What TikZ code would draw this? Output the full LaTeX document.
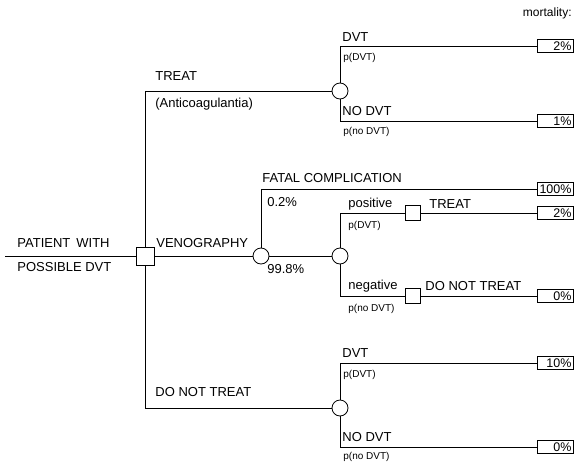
\documentclass[tikz,border=0pt]{standalone}
\usepackage{fontspec}
\setmainfont{Liberation Sans}
\begin{document}
\begin{tikzpicture}[x=1pt,y=-1pt, line width=0.8pt,
  dec/.style={draw, minimum size=15pt, inner sep=0pt, fill=white},
  chance/.style={draw, circle, minimum size=16pt, inner sep=0pt, fill=white},
  outc/.style={draw, minimum width=36pt, minimum height=13pt, inner sep=0pt, text width=33pt, align=right, font=\fontsize{12.5}{13}\selectfont},
  lab/.style={anchor=west, inner sep=0pt, font=\fontsize{13}{14}\selectfont},
  sm/.style={anchor=west, inner sep=0pt, font=\fontsize{10}{11}\selectfont}]
\useasboundingbox (0,0) rectangle (575,463);
% decision / chance nodes
\node[dec, minimum size=18pt] (d0) at (145,256) {};
\node[chance] (cT) at (340,91) {};
\node[chance] (cV) at (261,256) {};
\node[chance] (cR) at (340,256) {};
\node[chance] (cN) at (340,408) {};
\node[dec] (dP) at (413,213) {};
\node[dec] (dN) at (413,296) {};
% outcomes
\node[outc] (o1) at (555,46) {2\%};
\node[outc] (o2) at (555,121) {1\%};
\node[outc] (o3) at (555,189) {100\%};
\node[outc] (o4) at (555,213) {2\%};
\node[outc] (o5) at (555,296) {0\%};
\node[outc] (o6) at (555,363) {10\%};
\node[outc] (o7) at (555,447) {0\%};
\coordinate (start) at (5,256);
% connectors
\draw (start) -- (d0.west);
\draw (d0.north) |- (cT.west);
\draw (d0.south) |- (cN.west);
\draw (d0.east) -- (cV.west);
\draw (cV.east) -- (cR.west);
\draw (cV.north) |- (o3.west);
\draw (cT.north) |- (o1.west);
\draw (cT.south) |- (o2.west);
\draw (cR.north) |- (dP.west);
\draw (dP.east) -- (o4.west);
\draw (cR.south) |- (dN.west);
\draw (dN.east) -- (o5.west);
\draw (cN.north) |- (o6.west);
\draw (cN.south) |- (o7.west);
% labels
\node[lab, anchor=east, font=\fontsize{12}{13}\selectfont] (mort) at (572,13) {mortality:};
\node[lab] (l1) at (17,243) {PATIENT\hspace{6pt}WITH};
\node[lab] (l2) at (17,267) {POSSIBLE DVT};
\node[lab] (l3) at (156,243) {VENOGRAPHY};
\node[lab] (l4) at (155,76) {TREAT};
\node[lab] (l5) at (155,104) {(Anticoagulantia)};
\node[lab] (l6) at (155,392) {DO NOT TREAT};
\node[lab] (l7) at (342,37) {DVT};
\node[sm] (l8) at (343,58) {p(DVT)};
\node[lab] (l9) at (342,111) {NO DVT};
\node[sm] (l10) at (343,132) {p(no DVT)};
\node[lab] (l11) at (262,178) {FATAL COMPLICATION};
\node[lab] (l12) at (267,202) {0.2\%};
\node[lab] (l13) at (267,269) {99.8\%};
\node[lab] (l14) at (348,204) {positive};
\node[sm] (l15) at (348,226) {p(DVT)};
\node[lab] (l16) at (429,204) {TREAT};
\node[lab] (l17) at (348,286) {negative};
\node[sm] (l18) at (348,309) {p(no DVT)};
\node[lab] (l19) at (425,286) {DO NOT TREAT};
\node[lab] (l20) at (342,353) {DVT};
\node[sm] (l21) at (343,375) {p(DVT)};
\node[lab] (l22) at (342,437) {NO DVT};
\node[sm] (l23) at (343,457) {p(no DVT)};
\end{tikzpicture}
\end{document}
